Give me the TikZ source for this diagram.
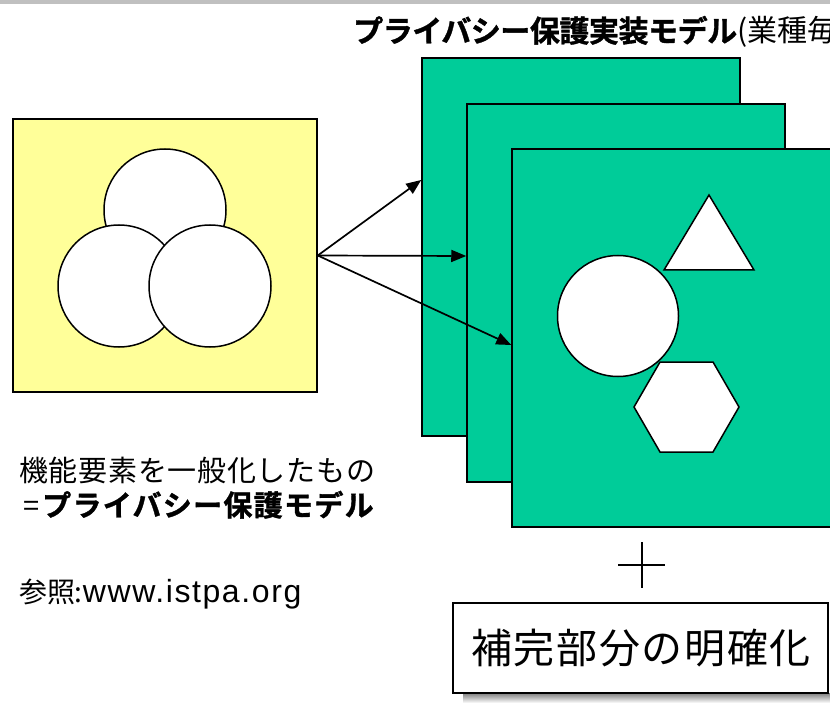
\documentclass[tikz,border=0pt]{standalone}
\usepackage{fontspec}
\setmainfont{Noto Sans CJK JP}[BoldFont={Noto Sans CJK JP Bold}, BoldFeatures={FakeBold=1.2}]
\newfontfamily\latfont{Liberation Sans}
\usetikzlibrary{arrows.meta}
\definecolor{grn}{HTML}{00CC99}
\definecolor{ylw}{HTML}{FFFF99}
\definecolor{topbar}{HTML}{C0C0C0}
\definecolor{shade}{HTML}{B4B4B4}
\tikzset{
  card/.style={draw=black, line width=1.5pt, fill=grn, minimum width=318pt, minimum height=378pt, inner sep=0pt},
  ybox/.style={draw=black, line width=1.5pt, fill=ylw, minimum width=304pt, minimum height=273pt, inner sep=0pt},
  wshape/.style={draw=black, line width=1.5pt, fill=white},
  arr/.style={line width=1.7pt, -{Triangle[length=15pt,width=12pt]}},
  txt/.style={inner sep=0pt, anchor=base west}
}
\begin{document}
\begin{tikzpicture}[x=1pt,y=-1pt]
\useasboundingbox (0,0) rectangle (830,703);
\clip (0,0) rectangle (830,703);
\fill[topbar] (0,0) rectangle (830,4);
% title
\node[txt] (title) at (353,42) {\fontsize{30}{34}\selectfont\bfseries\addfontfeatures{LetterSpace=-1.5}プライバシー保護実装モデル\mdseries\addfontfeatures{LetterSpace=0}(業種毎};
% yellow box
\node[ybox] (yb) at (165,255.5) {};
\node[wshape, circle, minimum size=122pt, inner sep=0pt] (c1) at (165,210) {};
\node[wshape, circle, minimum size=122pt, inner sep=0pt] (c2) at (119,286) {};
\node[wshape, circle, minimum size=122pt, inner sep=0pt] (c3) at (210,286) {};
% green cards
\node[card] (g1) at (581,247) {};
\node[card] (g2) at (626,293) {};
\node[card, minimum width=340pt] (g3) at (682,338) {};
\node[wshape, circle, minimum size=121pt, inner sep=0pt] (rc) at (618,316) {};
\draw[wshape, line join=miter] (709,195) -- (754,270) -- (664,270) -- cycle;
\draw[wshape] (660,362) -- (713,362) -- (739,407) -- (713,452) -- (660,452) -- (634,407) -- cycle;
% arrows
\draw[arr] (yb.east) -- (g1.west |- 0,180);
\draw[arr] (yb.east) -- (g2.west |- 0,256);
\draw[arr] (yb.east) -- (g3.west |- 0,345);
% plus
\coordinate (pt) at (642,542);
\coordinate (pb) at (642,588);
\coordinate (pl) at (618,565);
\coordinate (pr) at (665,565);
\draw[line width=1.2pt] (pt) -- (pb);
\draw[line width=1.2pt] (pl) -- (pr);
% bottom box
\fill[shade] (463,693) rectangle (840,703);
\node[draw=black, line width=1.5pt, fill=white, minimum width=375pt, minimum height=90pt, inner sep=0pt] (bb) at (640.5,648) {};
\node[txt] (bbt) at (471,663) {\fontsize{41}{46}\selectfont\addfontfeatures{LetterSpace=4}補完部分の明確化};
% left texts
\node[txt] (l1) at (19,481) {\fontsize{29}{33}\selectfont\addfontfeatures{LetterSpace=2.5}機能要素を一般化したもの};
\node[txt] (l2a) at (23,516) {\fontsize{29}{33}\selectfont =};
\node[txt] (l2) at (42,516) {\fontsize{29}{33}\selectfont\bfseries\addfontfeatures{LetterSpace=4.5}プライバシー保護モデル};
\node[txt] (l3) at (19,602) {\fontsize{28}{33}\selectfont 参照\hspace{-1pt}:\hspace{1pt}\latfont\fontsize{32}{36}\selectfont\addfontfeatures{LetterSpace=5}www.istpa.org};
\end{tikzpicture}
\end{document}
